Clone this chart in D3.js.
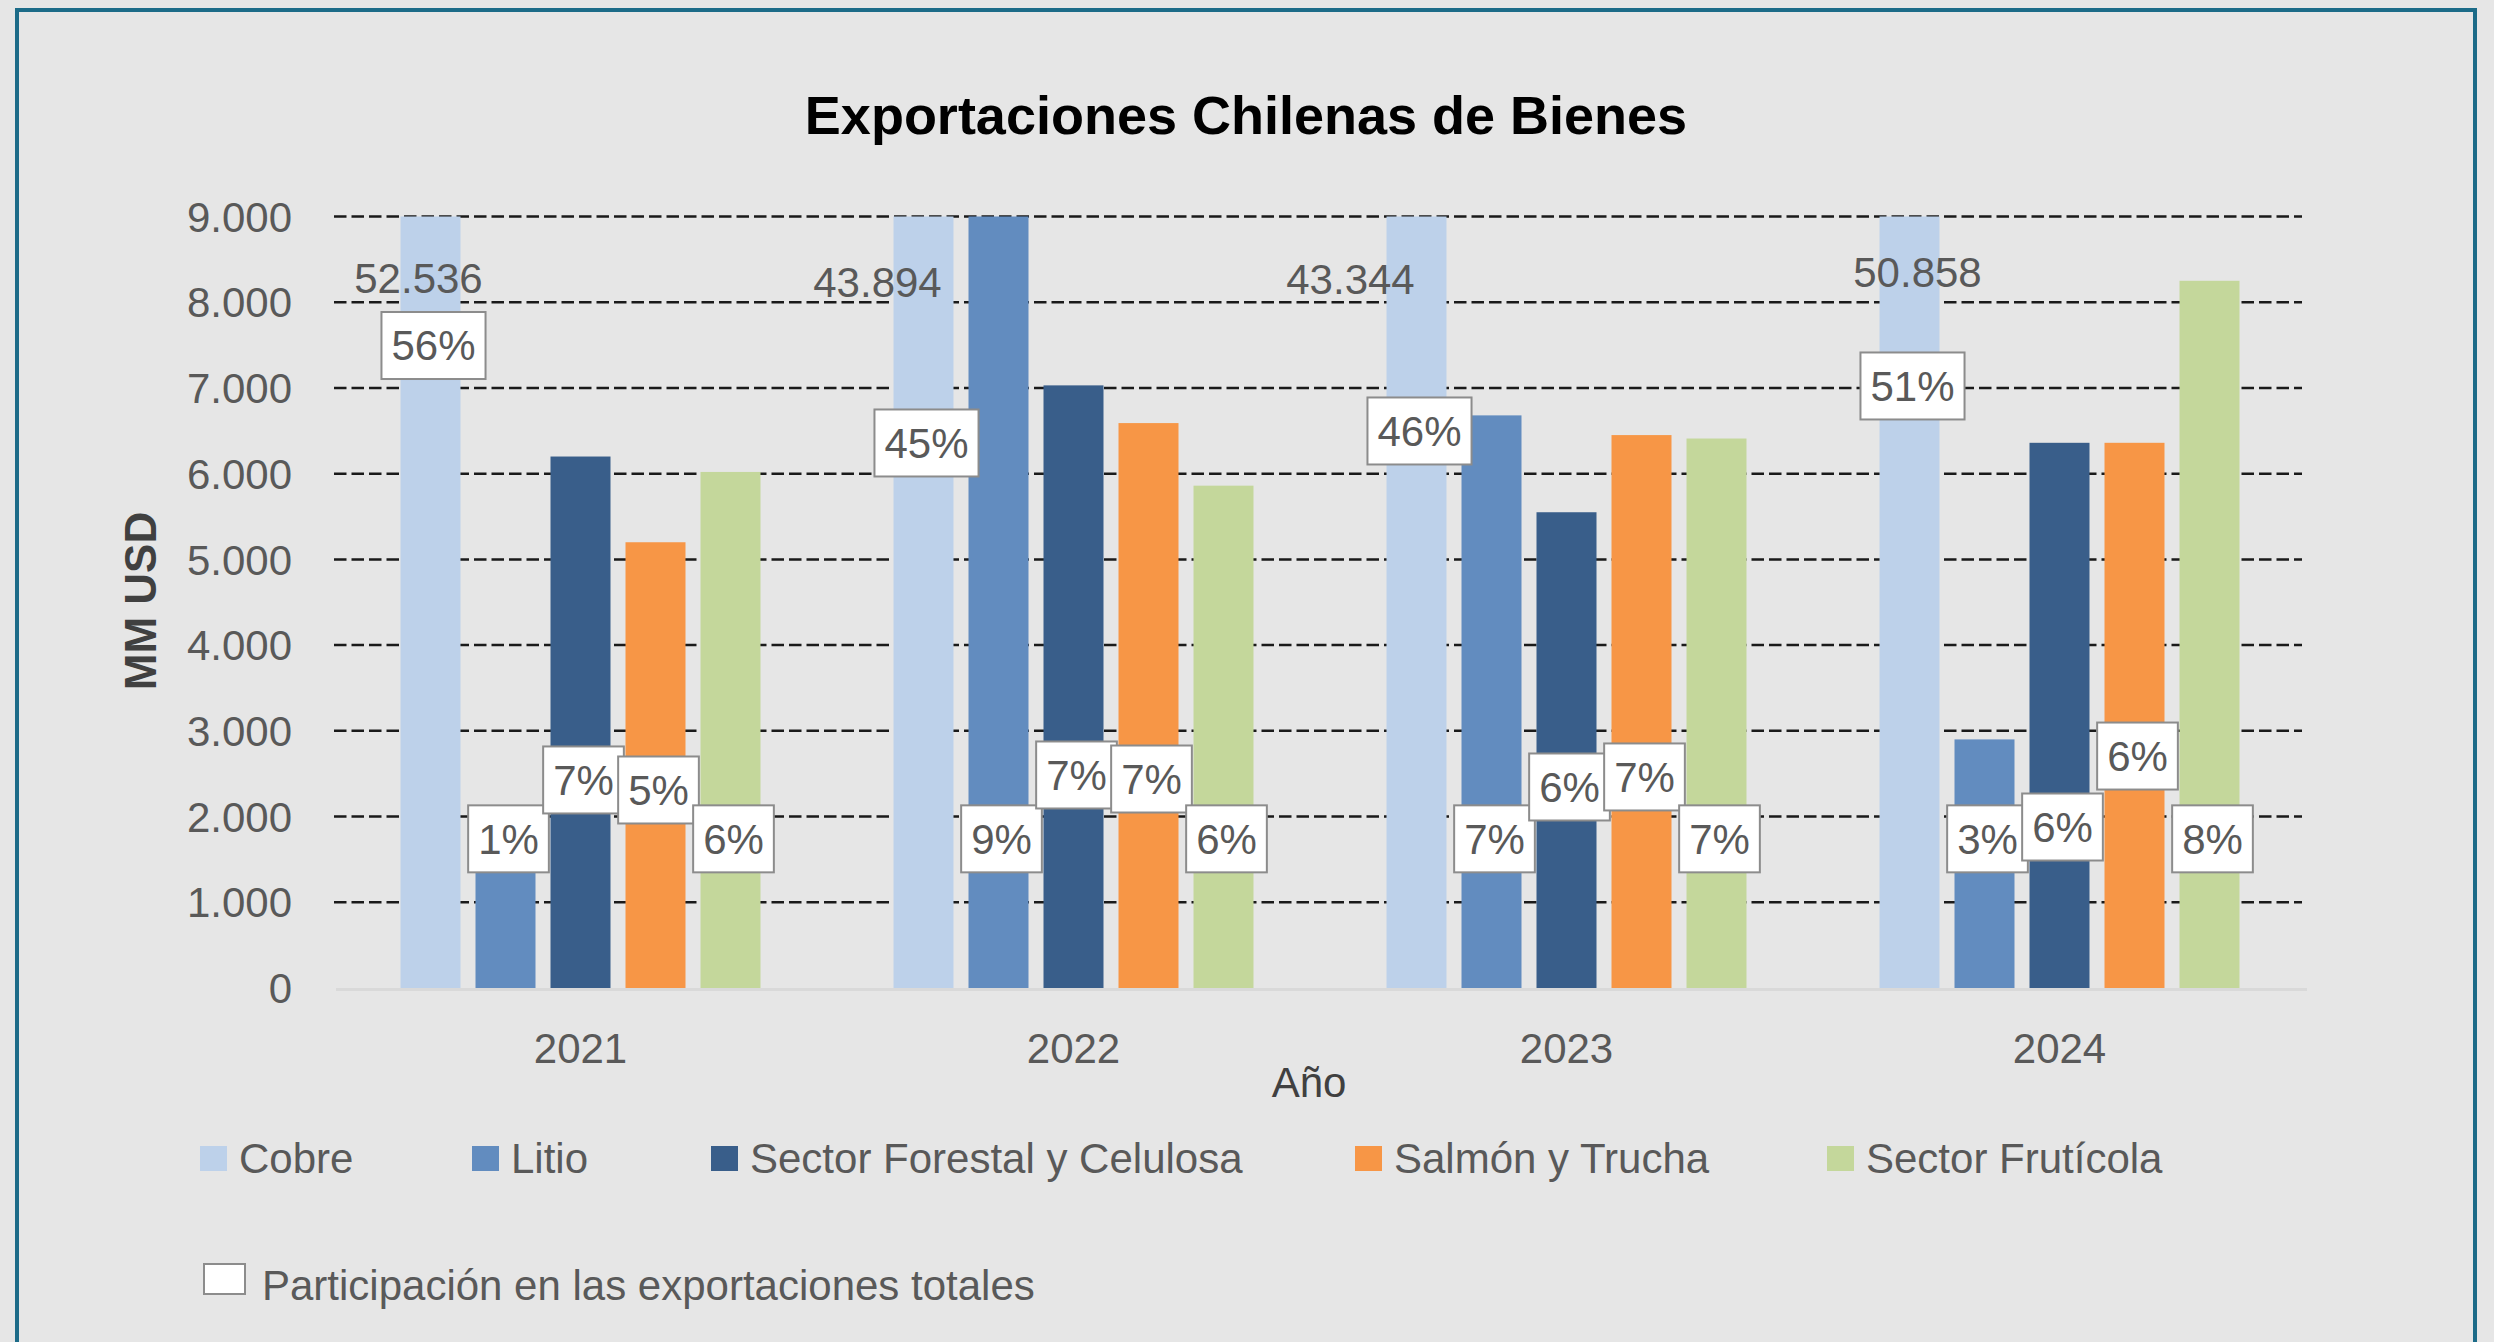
<!DOCTYPE html>
<html>
<head>
<meta charset="utf-8">
<script src="https://cdn.jsdelivr.net/npm/d3@7"></script>
<style>
  html, body { margin: 0; padding: 0; background: #e6e6e6; }
  svg { display: block; }
  text { font-family: "Liberation Sans", Arial, sans-serif; }
</style>
</head>
<body>
<svg id="chart" width="2494" height="1342"></svg>
<script>
// ---------------- DATA ----------------
const years = ["2021", "2022", "2023", "2024"];
const seriesNames = ["Cobre", "Litio", "Sector Forestal y Celulosa", "Salmón y Trucha", "Sector Frutícola"];
const cobre    = [52536, 43894, 43344, 50858];
const litio    = [1350, 9000, 6680, 2900];
const forestal = [6200, 7030, 5550, 6360];
const salmon   = [5200, 6590, 6450, 6360];
const fruticola = [6020, 5860, 6410, 8250];
const pctCobre    = [56, 45, 46, 51];
const pctLitio    = [1, 9, 7, 3];
const pctForestal = [7, 7, 6, 6];
const pctSalmon   = [5, 7, 7, 6];
const pctFruticola = [6, 6, 7, 8];
const yTicks = [0, 1000, 2000, 3000, 4000, 5000, 6000, 7000, 8000, 9000];
const cobreTotalLabels = ["52.536", "43.894", "43.344", "50.858"];
const shareLegend = "Participación en las exportaciones totales";

// ---------------- LAYOUT / STYLE ----------------
const colors = ["#bdd1ea", "#628cbf", "#395e8a", "#f79646", "#c4d79b"];
const W = 2494, H = 1342;
const svg = d3.select("#chart");

const valuesBySeries = [cobre, litio, forestal, salmon, fruticola];
const pctBySeries = [pctCobre, pctLitio, pctForestal, pctSalmon, pctFruticola];

// label placement (in value units on y axis), per series per year — manual placement as in source
const pctLabelLevel = [
  [7495, 6358, 6498, 7023],
  [1740, 1740, 1740, 1740],
  [2427, 2485, 2345, 1878],
  [2310, 2438, 2462, 2706],
  [1740, 1740, 1740, 1740]
];
const totalLabelLevel = [8108, 8061, 8096, 8178];
const totalLabelDx = [-12, -46, -66, 8];

// Frame
svg.append("rect").attr("x", 0).attr("y", 0).attr("width", W).attr("height", H).attr("fill", "#e6e6e6");
svg.append("rect").attr("x", 17).attr("y", 10).attr("width", 2458).attr("height", 1420)
  .attr("fill", "#e6e6e6").attr("stroke", "#1c6b88").attr("stroke-width", 4);

// Scales
const x0 = d3.scaleBand().domain(years).range([334, 2306]).paddingInner(0).paddingOuter(0);
const x1 = d3.scaleBand().domain(seriesNames).range([-180, 180]).paddingInner(0.2).paddingOuter(0);
const y = d3.scaleLinear().domain([0, 9000]).range([988, 216.5]);

// Title
svg.append("text").attr("x", 1246).attr("y", 134).attr("text-anchor", "middle")
  .attr("font-size", 54).attr("font-weight", "bold").attr("fill", "#000")
  .text("Exportaciones Chilenas de Bienes");

// Gridlines (dashed)
const grid = svg.append("g");
grid.selectAll("line").data(yTicks.filter(d => d > 0)).join("line")
  .attr("x1", 334).attr("x2", 2302)
  .attr("y1", d => y(d)).attr("y2", d => y(d))
  .attr("stroke", "#1a1a1a").attr("stroke-width", 2.5)
  .attr("stroke-dasharray", "12.5,5");

// Y axis tick labels
const fmt = d => d === 0 ? "0" : d3.format(",")(d).replace(/,/g, ".");
const yAxis = d3.axisLeft(y).tickValues(yTicks).tickFormat(fmt).tickSize(0).tickPadding(0);
const yG = svg.append("g").attr("transform", "translate(292,0)").call(yAxis);
yG.select(".domain").remove();
yG.selectAll("text").attr("font-size", 42).attr("fill", "#595959")
  .attr("font-family", "Liberation Sans, Arial, sans-serif").attr("dy", "0.35em");

// Bars
const barG = svg.append("g");
years.forEach((yr, i) => {
  seriesNames.forEach((s, j) => {
    const v = Math.min(valuesBySeries[j][i], 9000);
    barG.append("rect")
      .attr("x", x0(yr) + x0.bandwidth() / 2 + x1(s))
      .attr("y", y(v))
      .attr("width", x1.bandwidth())
      .attr("height", y(0) - y(v))
      .attr("fill", colors[j]);
  });
});

// Baseline
svg.append("line").attr("x1", 336).attr("x2", 2307).attr("y1", y(0) + 1.5).attr("y2", y(0) + 1.5)
  .attr("stroke", "#d9d9d9").attr("stroke-width", 3);

// X axis labels
const xAxis = d3.axisBottom(x0).tickSize(0).tickPadding(0);
const xG = svg.append("g").attr("transform", "translate(0,1063)").call(xAxis);
xG.select(".domain").remove();
xG.selectAll("text").attr("font-size", 42).attr("fill", "#595959")
  .attr("font-family", "Liberation Sans, Arial, sans-serif").attr("dy", 0).attr("y", 0);

// Axis titles
svg.append("text").attr("x", 1309).attr("y", 1097).attr("text-anchor", "middle")
  .attr("font-size", 42).attr("fill", "#404040").text("Año");
svg.append("text").attr("transform", "translate(156,601) rotate(-90)").attr("text-anchor", "middle")
  .attr("font-size", 44).attr("font-weight", "bold").attr("fill", "#404040").text("MM USD");

// Cobre totals labels
years.forEach((yr, i) => {
  const cx = x0(yr) + x0.bandwidth() / 2 + x1("Cobre") + x1.bandwidth() / 2;
  svg.append("text").attr("x", cx + totalLabelDx[i]).attr("y", y(totalLabelLevel[i]))
    .attr("text-anchor", "middle").attr("font-size", 42).attr("fill", "#595959")
    .text(cobreTotalLabels[i]);
});

// Percentage labels (white boxes)
const lblG = svg.append("g");
years.forEach((yr, i) => {
  seriesNames.forEach((s, j) => {
    const cx = x0(yr) + x0.bandwidth() / 2 + x1(s) + x1.bandwidth() / 2 + 3;
    const cy = y(pctLabelLevel[j][i]);
    const g = lblG.append("g");
    const r = g.append("rect");
    const t = g.append("text").attr("x", cx).attr("y", cy).attr("dy", "0.35em")
      .attr("text-anchor", "middle").attr("font-size", 42).attr("fill", "#595959")
      .text(pctBySeries[j][i] + "%");
    const tw = t.node().getComputedTextLength();
    const bw = tw + 20, bh = 67;
    r.attr("x", cx - bw / 2).attr("y", cy - bh / 2).attr("width", bw).attr("height", bh)
      .attr("fill", "#ffffff").attr("stroke", "#8c8c8c").attr("stroke-width", 2);
  });
});

// Legend row 1
const legendX = [200, 472, 711, 1355, 1827];
const leg = svg.append("g");
seriesNames.forEach((s, j) => {
  leg.append("rect").attr("x", legendX[j]).attr("y", 1146).attr("width", 27).attr("height", 25)
    .attr("fill", colors[j]);
  leg.append("text").attr("x", legendX[j] + 39).attr("y", 1173)
    .attr("font-size", 42).attr("fill", "#595959").text(s);
});
// Legend row 2
leg.append("rect").attr("x", 204).attr("y", 1264).attr("width", 41).attr("height", 30)
  .attr("fill", "#ffffff").attr("stroke", "#8c8c8c").attr("stroke-width", 2);
leg.append("text").attr("x", 262).attr("y", 1300).attr("font-size", 42).attr("fill", "#595959")
  .text(shareLegend);
</script>
</body>
</html>
